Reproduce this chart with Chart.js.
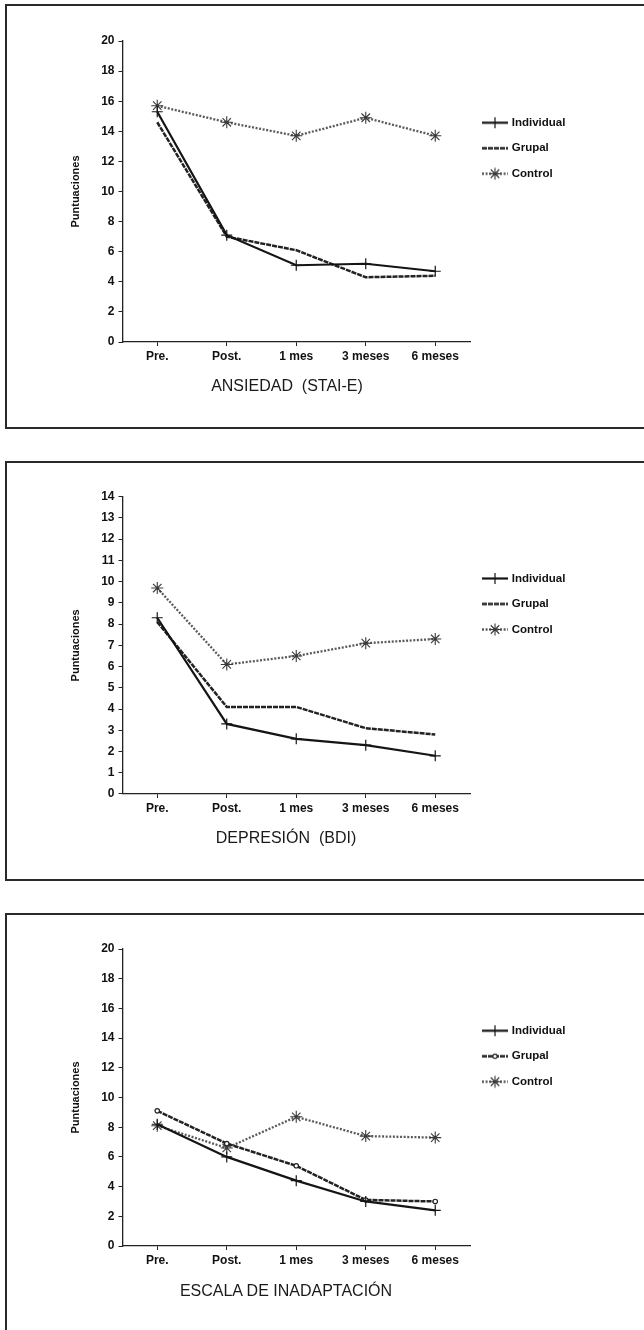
<!DOCTYPE html>
<html>
<head>
<meta charset="utf-8">
<script src="https://cdn.jsdelivr.net/npm/chart.js"></script>
<style>
  html, body { margin: 0; padding: 0; background: #fff; }
  body { width: 644px; height: 1330px; position: relative; overflow: hidden; font-family: "Liberation Sans", Arial, sans-serif; }
  .frame { position: absolute; left: 5px; width: 660px; box-sizing: border-box; border: 2px solid #2a2a2a; border-right: none; }
  canvas { position: absolute; left: 0; }
  .cap { position: absolute; width: 300px; text-align: center; font-size: 16px; line-height: 20px; color: #1a1a1a; white-space: pre; }
</style>
</head>
<body>
<div class="frame" style="top:4px;height:425px"></div>
<div class="frame" style="top:461px;height:420px"></div>
<div class="frame" style="top:913px;height:440px;border-bottom:none"></div>

<canvas id="c1" width="644" height="420" style="top:0px"></canvas>
<canvas id="c2" width="644" height="420" style="top:455px"></canvas>
<canvas id="c3" width="644" height="420" style="top:908px"></canvas>

<div class="cap" id="t1" style="left:137px;top:376px"></div>
<div class="cap" id="t2" style="left:136px;top:828px"></div>
<div class="cap" id="t3" style="left:136px;top:1281px"></div>

<script>
// ---------------- data ----------------
const categories = ['Pre.', 'Post.', '1 mes', '3 meses', '6 meses'];
const seriesNames = ['Individual', 'Grupal', 'Control'];
const yAxisTitle = 'Puntuaciones';
const panelTitles = ['ANSIEDAD  (STAI-E)', 'DEPRESIÓN  (BDI)', 'ESCALA DE INADAPTACIÓN'];
const yMaxima = [20, 14, 20];
const yStepSizes = [2, 1, 2];

const ansiedadIndividual = [15.3, 7.1, 5.1, 5.2, 4.7];
const ansiedadGrupal     = [14.6, 7.0, 6.1, 4.3, 4.4];
const ansiedadControl    = [15.7, 14.6, 13.7, 14.9, 13.7];

const depresionIndividual = [8.3, 3.3, 2.6, 2.3, 1.8];
const depresionGrupal     = [8.1, 4.1, 4.1, 3.1, 2.8];
const depresionControl    = [9.7, 6.1, 6.5, 7.1, 7.3];

const inadaptacionIndividual = [8.2, 6.0, 4.4, 3.0, 2.4];
const inadaptacionGrupal     = [9.1, 6.9, 5.4, 3.1, 3.0];
const inadaptacionControl    = [8.1, 6.6, 8.7, 7.4, 7.3];

// ---------------- styling / layout ----------------
Chart.defaults.font.family = '"Liberation Sans", Arial, Helvetica, sans-serif';
Chart.defaults.color = '#111';

const panelSeries = [
  [ansiedadIndividual, ansiedadGrupal, ansiedadControl],
  [depresionIndividual, depresionGrupal, depresionControl],
  [inadaptacionIndividual, inadaptacionGrupal, inadaptacionControl]
];
const grupalMarker = [false, false, true];
// chart-area targets within each canvas (layout only)
const areaTargets = [
  { left: 122.5, right: 470, top: 41,   bottom: 342 },
  { left: 122.5, right: 470, top: 41.7, bottom: 339 },
  { left: 122.5, right: 470, top: 41,   bottom: 338 }
];

function makeDatasets(vals, withGrupalMarker) {
  return [
    {
      label: seriesNames[0], data: vals[0],
      borderColor: '#151515', borderWidth: 2.2, borderDash: [],
      pointStyle: 'cross', pointRadius: 5.5, pointBorderColor: '#151515', pointBorderWidth: 1.2,
      pointBackgroundColor: '#151515', tension: 0, fill: false
    },
    {
      label: seriesNames[1], data: vals[1],
      borderColor: '#222222', borderWidth: 2.5, borderDash: [5, 1],
      pointStyle: 'circle', pointRadius: withGrupalMarker ? 2.2 : 0,
      pointBorderColor: '#222222', pointBorderWidth: 1.2, pointBackgroundColor: '#ffffff',
      tension: 0, fill: false
    },
    {
      label: seriesNames[2], data: vals[2],
      borderColor: '#5a5a5a', borderWidth: 2.3, borderDash: [2, 1.6],
      pointStyle: 'star', pointRadius: 6, pointBorderColor: '#3a3a3a', pointBorderWidth: 1.1,
      pointBackgroundColor: '#3a3a3a', tension: 0, fill: false
    }
  ];
}

function legendIcon(ds) {
  const c = document.createElement('canvas');
  c.width = 26; c.height = 15;
  const ctx = c.getContext('2d');
  ctx.strokeStyle = ds.borderColor;
  ctx.lineWidth = ds.borderWidth;
  ctx.setLineDash(ds.borderDash || []);
  ctx.beginPath(); ctx.moveTo(0, 7.5); ctx.lineTo(26, 7.5); ctx.stroke();
  ctx.setLineDash([]);
  if (ds.pointRadius > 0 && Chart.helpers && Chart.helpers.drawPoint) {
    ctx.strokeStyle = ds.pointBorderColor;
    ctx.fillStyle = ds.pointBackgroundColor;
    ctx.lineWidth = ds.pointBorderWidth;
    Chart.helpers.drawPoint(ctx, { pointStyle: ds.pointStyle, radius: ds.pointRadius, rotation: 0, borderWidth: ds.pointBorderWidth }, 13, 7.5);
  }
  return c;
}

function buildChart(idx) {
  const padding = { left: 60, right: 60, top: 30, bottom: 50 };
  const axisColor = '#222';
  const chart = new Chart(document.getElementById('c' + (idx + 1)), {
    type: 'line',
    data: { labels: categories, datasets: makeDatasets(panelSeries[idx], grupalMarker[idx]) },
    options: {
      responsive: false,
      animation: false,
      devicePixelRatio: 1,
      layout: { padding: padding },
      plugins: {
        tooltip: { enabled: false },
        legend: {
          display: true,
          position: 'right',
          align: 'start',
          title: { display: true, text: '', font: { size: 10 }, padding: { top: 50, bottom: 0 } },
          labels: {
            usePointStyle: true,
            pointStyleWidth: 22,
            padding: 14,
            color: '#111',
            font: { size: 11.5, weight: 'bold' },
            generateLabels(ch) {
              const items = Chart.defaults.plugins.legend.labels.generateLabels(ch);
              items.forEach(it => {
                it.pointStyle = legendIcon(ch.data.datasets[it.datasetIndex]);
                it.lineWidth = 0;
              });
              return items;
            }
          }
        }
      },
      scales: {
        x: {
          type: 'category',
          offset: true,
          grid: { display: true, drawOnChartArea: false, drawTicks: true, tickLength: 4, color: axisColor, lineWidth: 1, offset: false },
          border: { display: true, color: axisColor, width: 1.3 },
          ticks: { font: { size: 12, weight: 'bold' }, color: '#111', padding: 3.5, maxRotation: 0, autoSkip: false }
        },
        y: {
          min: 0, max: yMaxima[idx],
          grid: { display: true, drawOnChartArea: false, drawTicks: true, tickLength: 4, color: axisColor, lineWidth: 1 },
          border: { display: true, color: axisColor, width: 1.3 },
          ticks: { stepSize: yStepSizes[idx], font: { size: 12, weight: 'bold' }, color: '#111', padding: 4 },
          title: { display: true, text: yAxisTitle, color: '#111', font: { size: 11, weight: 'bold' }, padding: { top: 0, bottom: 15 } }
        }
      }
    }
  });
  // adjust layout padding so that the plot area sits where the reference has it
  const t = areaTargets[idx];
  for (let i = 0; i < 6; i++) {
    const a = chart.chartArea;
    const dl = t.left - a.left, dt = t.top - a.top, dr = a.right - t.right, db = a.bottom - t.bottom;
    if (Math.abs(dl) + Math.abs(dt) + Math.abs(dr) + Math.abs(db) < 0.1) break;
    padding.left += dl; padding.top += dt; padding.right += dr; padding.bottom += db;
    chart.update('none');
  }
  document.getElementById('t' + (idx + 1)).textContent = panelTitles[idx];
  return chart;
}

[0, 1, 2].forEach(buildChart);
</script>
</body>
</html>
